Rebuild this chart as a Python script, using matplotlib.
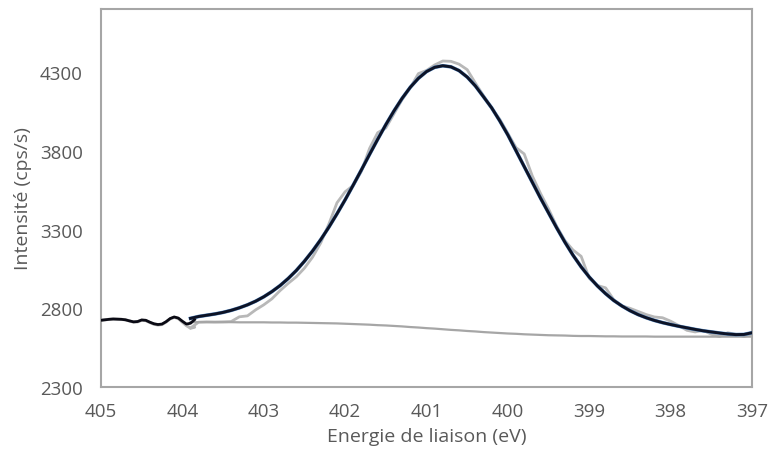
import matplotlib
matplotlib.use("Agg")
import matplotlib.pyplot as plt

# ---- data ----
# pre-fit region (drawn dark, following the raw data)
pre_energy = [405.0, 404.95, 404.9, 404.85, 404.8, 404.75, 404.7, 404.65, 404.6, 404.55,
              404.5, 404.45, 404.4, 404.35, 404.3, 404.25, 404.2, 404.15, 404.1, 404.05,
              404.0, 403.95, 403.9, 403.85]
pre_counts = [2724, 2727, 2730, 2732, 2731, 2730, 2727, 2720, 2714, 2716,
              2726, 2724, 2712, 2702, 2697, 2700, 2715, 2735, 2745, 2738,
              2718, 2700, 2705, 2728]
pre_raw = [2724, 2727, 2730, 2732, 2731, 2730, 2727, 2720, 2712, 2714,
           2724, 2722, 2710, 2699, 2694, 2697, 2713, 2733, 2743, 2735,
           2712, 2690, 2674, 2680]

# fit region
energy = [403.9, 403.8, 403.7, 403.6, 403.5, 403.4, 403.3, 403.2, 403.1, 403.0,
          402.9, 402.8, 402.7, 402.6, 402.5, 402.4, 402.3, 402.2, 402.1, 402.0,
          401.9, 401.8, 401.7, 401.6, 401.5, 401.4, 401.3, 401.2, 401.1, 401.0,
          400.9, 400.8, 400.7, 400.6, 400.5, 400.4, 400.3, 400.2, 400.1, 400.0,
          399.9, 399.8, 399.7, 399.6, 399.5, 399.4, 399.3, 399.2, 399.1, 399.0,
          398.9, 398.8, 398.7, 398.6, 398.5, 398.4, 398.3, 398.2, 398.1, 398.0,
          397.9, 397.8, 397.7, 397.6, 397.5, 397.4, 397.3, 397.2, 397.1, 397.0]

raw = [2675, 2712, 2714, 2713, 2714, 2716, 2746, 2752, 2790, 2822,
       2860, 2912, 2958, 3000, 3055, 3125, 3215, 3335, 3470, 3540,
       3580, 3670, 3815, 3915, 3945, 4035, 4125, 4200, 4290, 4310,
       4345, 4370, 4368, 4350, 4315, 4230, 4150, 4070, 4000, 3910,
       3820, 3780, 3640, 3530, 3430, 3320, 3230, 3170, 3130, 2990,
       2945, 2930, 2855, 2815, 2800, 2780, 2760, 2745, 2740, 2718,
       2690, 2660, 2650, 2660, 2635, 2620, 2645, 2635, 2620, 2637]

fit = [2736, 2748, 2756, 2764, 2774, 2787, 2803, 2822, 2845, 2873,
       2906, 2944, 2989, 3040, 3099, 3164, 3236, 3315, 3400, 3489,
       3583, 3679, 3777, 3873, 3966, 4053, 4133, 4203, 4260, 4303,
       4330, 4340, 4333, 4309, 4268, 4212, 4143, 4073, 3990, 3900,
       3800, 3700, 3600, 3500, 3405, 3310, 3220, 3137, 3063, 2998,
       2942, 2893, 2850, 2815, 2785, 2760, 2740, 2723, 2709, 2697,
       2686, 2676, 2666, 2657, 2650, 2643, 2637, 2633, 2634, 2645]

background = [2712, 2712, 2712, 2712, 2712, 2712, 2711, 2711, 2711, 2711,
              2710, 2710, 2709, 2709, 2708, 2707, 2706, 2705, 2704, 2702,
              2700, 2698, 2696, 2693, 2691, 2688, 2685, 2681, 2678, 2674,
              2671, 2667, 2663, 2660, 2656, 2653, 2649, 2646, 2643, 2640,
              2638, 2635, 2633, 2631, 2629, 2628, 2627, 2625, 2624, 2624,
              2623, 2622, 2622, 2621, 2621, 2621, 2621, 2620, 2620, 2620,
              2620, 2620, 2620, 2620, 2620, 2620, 2620, 2620, 2620, 2620]

x_ticks = [405, 404, 403, 402, 401, 400, 399, 398, 397]
y_ticks = [2300, 2800, 3300, 3800, 4300]

plt.rcParams['font.family'] = ['Open Sans', 'DejaVu Sans']

fig = plt.figure(figsize=(7.69, 4.56), dpi=100)
ax = fig.add_axes([0.1313, 0.149, 0.8467, 0.829])

text_col = '#595959'
ax.plot(pre_energy, pre_raw, color='#b8b8b8', lw=2.2, solid_capstyle='round', zorder=2)
ax.plot(energy, raw, color='#b8b8b8', lw=2.0, zorder=2)
ax.plot(energy, background, color='#a6a6a6', lw=1.6, zorder=3)
ax.plot(energy, fit, color='#5b8fc9', lw=2.6, zorder=4)
ax.plot(pre_energy, pre_counts, color='#0a0a14', lw=2.0, zorder=5)
ax.plot(energy, fit, color='#0d1326', lw=2.1, zorder=5)

ax.set_xlim(405, 397)
ax.set_ylim(2300, 4700)
ax.set_xticks(x_ticks)
ax.set_yticks(y_ticks)
ax.tick_params(length=0, labelsize=13.5, colors=text_col)
ax.tick_params(axis='y', pad=13)
ax.tick_params(axis='x', pad=11)
for s in ax.spines.values():
    s.set_color('#a6a6a6')
    s.set_linewidth(1.5)

ax.set_xlabel('Energie de liaison (eV)', fontsize=14, color=text_col, labelpad=5)
ax.set_ylabel('Intensité (cps/s)', fontsize=14, color=text_col, labelpad=6)

fig.savefig('out.png', dpi=100)
